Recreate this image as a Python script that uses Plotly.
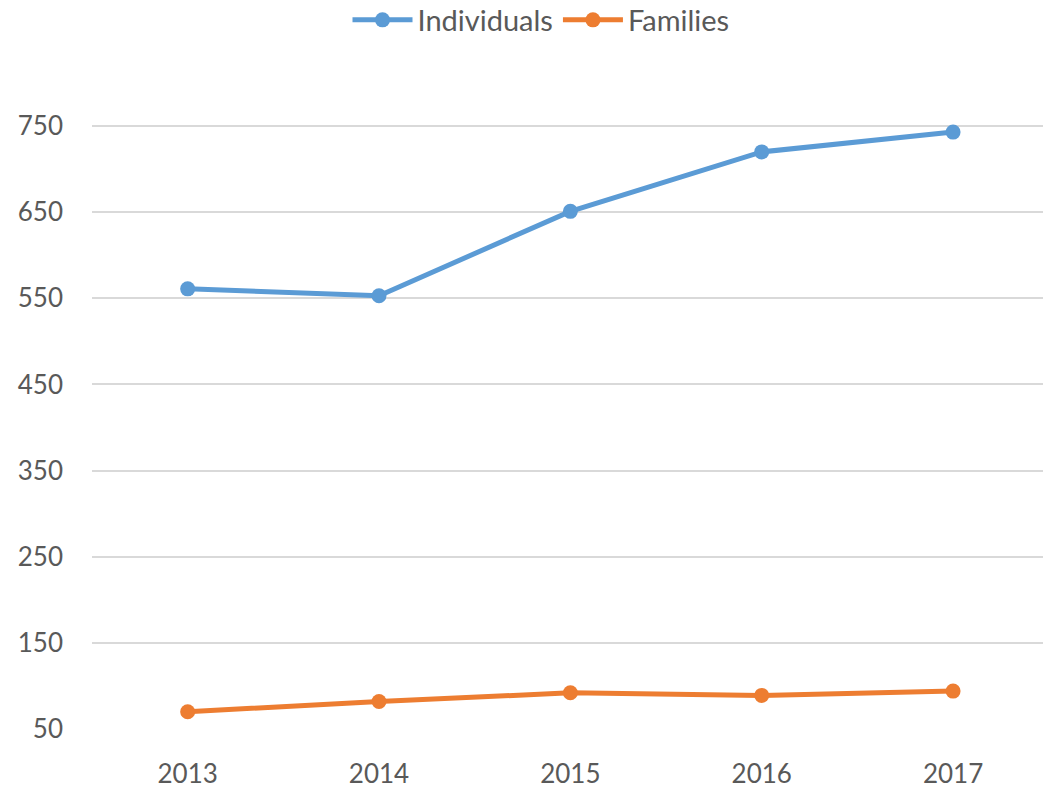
import plotly.graph_objects as go

years = ["2013", "2014", "2015", "2016", "2017"]
individuals = [561, 553, 651, 720, 743]
families = [70, 82, 92, 89, 94]
y_ticks = [50, 150, 250, 350, 450, 550, 650, 750]

FONT = "Lato"
GREY = "#595959"

fig = go.Figure()
fig.add_trace(go.Scatter(x=years, y=individuals, name="Individuals", mode="lines+markers",
                         line=dict(color="#5B9BD5", width=5),
                         marker=dict(color="#5B9BD5", size=15)))
fig.add_trace(go.Scatter(x=years, y=families, name="Families", mode="lines+markers",
                         line=dict(color="#ED7D31", width=5),
                         marker=dict(color="#ED7D31", size=15)))

W, H = 1043, 789
fig.update_layout(
    width=W, height=H,
    margin=dict(l=92, r=0, t=83, b=57),
    paper_bgcolor="white", plot_bgcolor="white",
    font=dict(family=FONT, color=GREY, size=26),
    showlegend=True,
    legend=dict(orientation="h", x=541 / W, xref="container", xanchor="center",
                y=1 - 20 / H, yref="container", yanchor="middle",
                font=dict(size=29, color=GREY, family=FONT),
                itemwidth=60, traceorder="normal"),
    xaxis=dict(type="category", range=[-0.5, 4.47], showgrid=False, zeroline=False,
               showline=False, ticks="", tickfont=dict(size=26, color=GREY, family=FONT),
               ticklabelstandoff=27),
    yaxis=dict(range=[50, 800], tickvals=y_ticks, showgrid=True, gridcolor="#D9D9D9",
               gridwidth=2, zeroline=False, showline=False, ticks="",
               tickfont=dict(size=26, color=GREY, family=FONT), ticklabelstandoff=28),
)

fig.write_html(
    "out.html",
    config={"displayModeBar": False},
    post_script="document.body.style.margin='0';document.body.style.overflow='hidden';",
)
